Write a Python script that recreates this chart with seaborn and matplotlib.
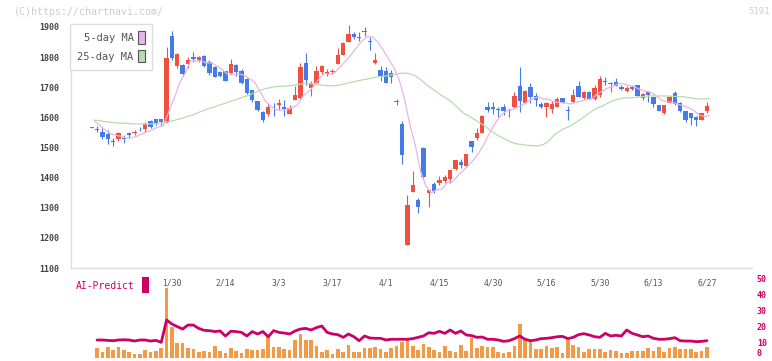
import numpy as np
import pandas as pd
import matplotlib
matplotlib.use("Agg")
import matplotlib.pyplot as plt
import seaborn as sns
from matplotlib.patches import Patch, Rectangle
from matplotlib.transforms import blended_transform_factory

# daily candles, 2025-01-08 .. 2025-06-27 (116 trading days)
opens = [1565, 1563, 1552, 1545, 1523, 1528, 1533, 1547, 1547, 1562,
         1561, 1588, 1594, 1594, 1584, 1870, 1770, 1774, 1776, 1800,
         1790, 1804, 1785, 1768, 1752, 1753, 1748, 1774, 1755, 1727,
         1690, 1653, 1619, 1611, 1626, 1641, 1634, 1611, 1658, 1663,
         1781, 1699, 1713, 1750, 1745, 1750, 1777, 1807, 1851, 1877,
         1868, 1886, 1852, 1779, 1757, 1755, 1748, 1650, 1578, 1176,
         1353, 1326, 1499, 1350, 1379, 1383, 1390, 1395, 1428, 1453,
         1439, 1522, 1533, 1549, 1636, 1636, 1627, 1636, 1620, 1636,
         1704, 1649, 1700, 1671, 1644, 1636, 1628, 1636, 1663, 1624,
         1652, 1704, 1663, 1685, 1661, 1674, 1721, 1710, 1718, 1702,
         1688, 1702, 1707, 1664, 1683, 1667, 1641, 1616, 1649, 1682,
         1649, 1621, 1613, 1600, 1591, 1621]
highs = [1568, 1571, 1565, 1558, 1530, 1553, 1540, 1550, 1558, 1569,
         1586, 1590, 1594, 1595, 1835, 1887, 1813, 1776, 1800, 1818,
         1805, 1806, 1790, 1772, 1755, 1755, 1793, 1776, 1760, 1730,
         1692, 1655, 1622, 1647, 1647, 1660, 1657, 1640, 1704, 1782,
         1813, 1721, 1771, 1774, 1760, 1762, 1829, 1850, 1905, 1884,
         1883, 1899, 1866, 1815, 1771, 1768, 1757, 1660, 1589, 1342,
         1422, 1334, 1500, 1360, 1384, 1405, 1409, 1425, 1460, 1462,
         1480, 1523, 1564, 1608, 1652, 1652, 1636, 1644, 1632, 1685,
         1768, 1690, 1715, 1680, 1652, 1652, 1654, 1667, 1665, 1638,
         1694, 1721, 1688, 1688, 1707, 1737, 1733, 1718, 1730, 1707,
         1704, 1708, 1707, 1680, 1685, 1668, 1642, 1642, 1671, 1688,
         1651, 1622, 1616, 1603, 1614, 1650]
lows = [1565, 1553, 1528, 1512, 1505, 1520, 1514, 1531, 1541, 1556,
        1550, 1564, 1575, 1570, 1580, 1790, 1765, 1736, 1763, 1785,
        1785, 1768, 1742, 1735, 1735, 1720, 1744, 1737, 1710, 1677,
        1650, 1622, 1586, 1605, 1605, 1625, 1605, 1611, 1658, 1660,
        1707, 1671, 1712, 1745, 1737, 1745, 1777, 1807, 1851, 1860,
        1855, 1870, 1824, 1777, 1722, 1715, 1715, 1641, 1445, 1176,
        1353, 1284, 1397, 1303, 1350, 1375, 1381, 1381, 1425, 1431,
        1437, 1486, 1525, 1548, 1619, 1611, 1600, 1608, 1602, 1630,
        1619, 1647, 1649, 1638, 1630, 1602, 1613, 1633, 1648, 1591,
        1648, 1667, 1662, 1660, 1658, 1669, 1707, 1685, 1704, 1691,
        1685, 1691, 1670, 1658, 1652, 1635, 1620, 1610, 1648, 1641,
        1619, 1586, 1575, 1573, 1590, 1616]
closes = [1567, 1559, 1534, 1529, 1517, 1547, 1528, 1541, 1553, 1560,
          1578, 1569, 1580, 1583, 1798, 1798, 1810, 1743, 1790, 1794,
          1801, 1772, 1746, 1735, 1736, 1722, 1777, 1752, 1713, 1682,
          1658, 1625, 1591, 1633, 1623, 1647, 1629, 1631, 1674, 1768,
          1724, 1715, 1754, 1771, 1752, 1753, 1807, 1848, 1877, 1866,
          1863, 1883, 1849, 1790, 1738, 1715, 1735, 1653, 1475, 1309,
          1376, 1301, 1403, 1359, 1357, 1392, 1401, 1425, 1458, 1442,
          1478, 1500, 1549, 1605, 1625, 1629, 1623, 1622, 1624, 1671,
          1655, 1688, 1669, 1658, 1636, 1649, 1644, 1660, 1649, 1620,
          1674, 1667, 1685, 1661, 1697, 1726, 1716, 1715, 1705, 1695,
          1699, 1694, 1671, 1678, 1675, 1646, 1621, 1641, 1669, 1643,
          1621, 1591, 1597, 1592, 1613, 1638]

ma5_start = [1589, 1574, 1560, 1546]
ma25 = [1591, 1589, 1586, 1584, 1582, 1581, 1580, 1579, 1578, 1578,
        1578, 1579, 1580, 1582, 1586, 1590, 1595, 1600, 1606, 1612,
        1620, 1626, 1632, 1638, 1644, 1650, 1656, 1662, 1668, 1674,
        1682, 1690, 1695, 1699, 1702, 1703, 1704, 1706, 1709, 1711,
        1713, 1711, 1708, 1706, 1705, 1705, 1708, 1712, 1716, 1720,
        1724, 1727, 1731, 1734, 1736, 1739, 1742, 1746, 1747, 1745,
        1738, 1726, 1710, 1697, 1685, 1672, 1662, 1648, 1632, 1614,
        1605, 1594, 1583, 1572, 1557, 1545, 1535, 1526, 1517, 1512,
        1510, 1507, 1506, 1505, 1510, 1522, 1542, 1554, 1564, 1571,
        1583, 1594, 1607, 1620, 1631, 1637, 1647, 1655, 1661, 1664,
        1665, 1666, 1668, 1670, 1671, 1671, 1671, 1671, 1670, 1669,
        1669, 1666, 1663, 1661, 1661, 1663]

# lower panel (from the 2nd day on)
volume = [6.25, 3.9, 6.9, 5.0, 6.9, 5.2, 3.9, 2.5, 2.5, 5.0,
          3.9, 4.6, 6.25, 43.5, 19.6, 9.6, 9.6, 6.25, 5.6, 3.9,
          4.6, 3.9, 7.3, 4.6, 3.3, 6.25, 4.6, 3.3, 5.8, 5.2,
          5.2, 5.8, 14.0, 6.9, 6.9, 5.8, 5.0, 11.5, 15.0, 11.5,
          11.5, 7.5, 3.9, 5.2, 2.5, 5.6, 3.9, 8.1, 3.9, 3.9,
          6.25, 6.25, 6.9, 5.6, 3.8, 6.1, 7.5, 10.0, 11.25, 7.5,
          5.0, 8.75, 6.7, 5.0, 3.75, 7.5, 4.4, 3.75, 8.1, 4.6,
          12.5, 6.25, 7.5, 7.1, 6.7, 3.75, 3.3, 3.75, 7.5, 21.25,
          11.25, 10.4, 5.4, 5.8, 7.5, 6.0, 6.7, 3.3, 11.25, 8.1,
          6.7, 3.75, 5.4, 5.4, 5.4, 3.75, 5.0, 4.4, 3.3, 3.3,
          4.6, 4.6, 4.6, 6.0, 4.6, 6.7, 3.75, 6.0, 6.7, 5.8,
          5.4, 5.4, 3.75, 4.6, 6.7]
ai_predict = [11.25, 11.25, 11.0, 10.8, 11.25, 11.4, 11.25, 10.6, 11.25, 11.25,
              10.6, 11.0, 9.8, 23.75, 21.25, 19.6, 18.1, 20.6, 20.6, 18.5,
              17.3, 17.1, 16.5, 16.9, 13.75, 16.7, 16.5, 16.0, 13.75, 16.5,
              15.0, 16.5, 13.3, 17.1, 16.0, 15.6, 15.0, 16.9, 18.1, 18.5,
              17.5, 19.0, 20.0, 16.0, 15.0, 14.6, 12.9, 15.0, 13.3, 10.8,
              13.75, 12.5, 12.3, 12.3, 11.25, 11.7, 11.7, 11.7, 11.7, 12.1,
              12.9, 13.75, 15.8, 15.4, 16.7, 15.4, 17.5, 15.4, 16.9, 14.4,
              14.0, 12.9, 13.1, 11.7, 11.7, 11.25, 10.4, 10.8, 12.1, 13.75,
              11.7, 10.8, 11.25, 12.1, 12.3, 12.7, 13.3, 13.5, 12.1, 12.9,
              14.6, 15.2, 14.4, 13.3, 12.9, 15.4, 13.75, 14.2, 13.75, 17.5,
              15.4, 14.4, 13.3, 13.75, 12.3, 11.7, 11.7, 12.1, 12.7, 10.8,
              10.6, 10.6, 10.2, 10.4, 10.8]

date_labels = ["1/30", "2/14", "3/3", "3/17", "4/1", "4/15", "4/30", "5/16", "5/30", "6/13", "6/27"]
date_pos = [15, 25, 35, 45, 55, 65, 75, 85, 95, 105, 115]
price_ticks = [1100, 1200, 1300, 1400, 1500, 1600, 1700, 1800, 1900]
ai_ticks = [0, 10, 20, 30, 40, 50]

RED = "#f0503f"
BLUE = "#457be8"
PINK = "#e8b4ea"
GREEN = "#b6dcac"
CRIMSON = "#cc0066"
ORANGE = "#f29a45"

sns.set_style("white")
plt.rcParams["font.family"] = ["DejaVu Sans Mono", "DejaVu Sans"]

W, H = 772, 361
fig = plt.figure(figsize=(W / 100, H / 100), dpi=100)

days = np.arange(len(closes))
o = np.array(opens, dtype=float)
c = np.array(closes, dtype=float)
colors = [RED if cc >= oo else BLUE for oo, cc in zip(o, c)]

ma5 = pd.Series(c).rolling(5).mean()
ma5.iloc[:4] = ma5_start

# main price panel
ax = fig.add_axes([71 / W, 1 - 268 / H, (752 - 71) / W, (268 - 25) / H])
ax.vlines(days, lows, highs, colors=colors, linewidth=0.8, zorder=2)
ax.bar(days, np.maximum(np.abs(c - o), 3), bottom=np.minimum(o, c), width=0.82,
       color=colors, linewidth=0, zorder=3)
sns.lineplot(x=days + 0.45, y=ma25, color=GREEN, linewidth=0.9, ax=ax, zorder=4)
sns.lineplot(x=days + 0.45, y=ma5.values, color=PINK, linewidth=0.9, ax=ax, zorder=4)

ax.set_xlim(-3.87, 123.42)
ax.set_ylim(1100, 1906.6)
ax.set_xlabel("")
ax.set_ylabel("")
for s in ["top", "right"]:
    ax.spines[s].set_visible(False)
for s in ["left", "bottom"]:
    ax.spines[s].set_color("#dddddd")
    ax.spines[s].set_linewidth(1.0)
ax.set_yticks(price_ticks)
ax.set_yticklabels([str(t) for t in price_ticks])
ax.tick_params(axis="y", direction="out", length=3.6, width=0.8, color="#dddddd",
               labelcolor="#444444", labelsize=6, pad=4.5)
for lab in ax.get_yticklabels():
    lab.set_fontweight("bold")
ax.set_xticks(np.linspace(-3.87, 123.42, 12))
ax.tick_params(axis="x", direction="inout", length=6, width=0.8, color="#dddddd",
               labelbottom=False)

leg = ax.legend(handles=[Patch(facecolor=PINK, edgecolor="#555555", linewidth=0.8, label="5-day MA"),
                         Patch(facecolor=GREEN, edgecolor="#555555", linewidth=0.8, label="25-day MA")],
                loc="upper left", bbox_to_anchor=(70 / W, 1 - 24 / H), bbox_transform=fig.transFigure,
                markerfirst=False, fancybox=False, framealpha=1, edgecolor="#dddddd",
                fontsize=7.5, handlelength=0.7, handleheight=1.5, handletextpad=0.4,
                labelspacing=0.55, borderpad=0.7, borderaxespad=0)
for t in leg.get_texts():
    t.set_color("#555555")
leg.get_frame().set_linewidth(1.0)

trans = blended_transform_factory(ax.transData, fig.transFigure)
for lab, pos in zip(date_labels, date_pos):
    ax.text(pos, 1 - 283 / H, lab, transform=trans, ha="center", va="center",
            fontsize=5.8, color="#555555", clip_on=False)

# lower AI-Predict panel
ax2 = fig.add_axes([71 / W, 0, (752 - 71) / W, 86 / H])
ax2.patch.set_visible(False)
ax2.bar(days[1:], volume, width=0.68, color=ORANGE, linewidth=0, zorder=2)
sns.lineplot(x=days[1:], y=ai_predict, color=CRIMSON, linewidth=2.0, ax=ax2, zorder=3)
ax2.set_xlim(-3.87, 123.42)
ax2.set_ylim(-1.875, 51.875)
ax2.set_xlabel("")
ax2.set_ylabel("")
for s in ax2.spines.values():
    s.set_visible(False)
ax2.set_xticks([])
ax2.yaxis.tick_right()
ax2.set_yticks(ai_ticks)
ax2.set_yticklabels([str(t) for t in ai_ticks])
ax2.tick_params(axis="y", length=0, labelcolor=CRIMSON, labelsize=6, pad=3.5)
for lab in ax2.get_yticklabels():
    lab.set_fontweight("bold")
ax2.get_yticklabels()[0].set_verticalalignment("bottom")

fig.text(76 / W, 1 - 286 / H, "AI-Predict", color=CRIMSON, fontsize=7, va="center")
fig.patches.append(Rectangle((142 / W, 1 - 293 / H), 7 / W, 16 / H, transform=fig.transFigure,
                             facecolor=CRIMSON, edgecolor="none"))

fig.text(14 / W, 1 - 12 / H, "(C)https://chartnavi.com/", color="#cccccc", fontsize=7.2, va="center")
fig.text(770 / W, 1 - 12 / H, "5191", color="#cccccc", fontsize=6.5, va="center", ha="right")

fig.savefig("out.png", dpi=100)
